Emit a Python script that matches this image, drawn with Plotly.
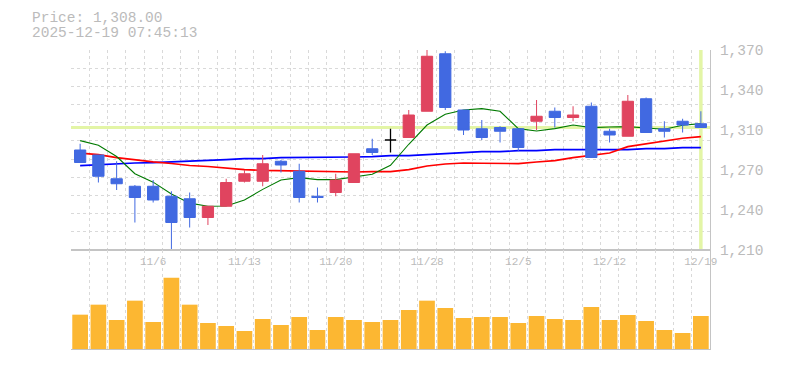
import plotly.graph_objects as go

# ---------------- data ----------------
dates = ["10/30", "10/31", "11/4", "11/5", "11/6", "11/7", "11/10", "11/11", "11/12", "11/13",
         "11/14", "11/17", "11/18", "11/19", "11/20", "11/21", "11/25", "11/26", "11/27", "11/28",
         "12/1", "12/2", "12/3", "12/4", "12/5", "12/8", "12/9", "12/10", "12/11", "12/12",
         "12/15", "12/16", "12/17", "12/18", "12/19"]

open_ = [1290, 1286, 1267, 1261, 1261, 1253, 1251, 1236, 1245, 1265,
         1265, 1281, 1273, 1253, 1256, 1264, 1291, 1298, 1300, 1321,
         1367, 1322, 1307, 1308, 1307, 1313, 1321, 1316, 1325, 1305,
         1301, 1331, 1307, 1313, 1311]
high = [1295, 1286, 1281, 1262, 1266, 1257, 1256, 1245, 1267, 1274,
        1286, 1282, 1279, 1260, 1271, 1287, 1299, 1307, 1322, 1370,
        1369, 1322, 1314, 1309, 1307, 1330, 1324, 1325, 1328, 1307,
        1334, 1332, 1313, 1315, 1321]
low = [1280, 1264, 1258, 1232, 1248, 1210, 1228, 1230, 1245, 1264,
       1261, 1272, 1248, 1248, 1253, 1264, 1286, 1288, 1300, 1321,
       1322, 1302, 1298, 1296, 1289, 1306, 1308, 1313, 1284, 1296,
       1301, 1304, 1300, 1304, 1308]
close = [1280, 1269, 1263, 1252, 1250, 1232, 1236, 1245, 1264, 1271,
         1279, 1278, 1252, 1252, 1266, 1287, 1288, 1298, 1318, 1365,
         1324, 1306, 1300, 1305, 1292, 1317, 1316, 1318, 1284, 1302,
         1329, 1304, 1305, 1310, 1308]

ma_short = [1297.5, 1293.8, 1284.8, 1271.0, 1264.3, 1254.8, 1247.5, 1245.0, 1245.2, 1250.0,
            1258.5, 1266.0, 1267.9, 1266.3, 1266.3, 1268.4, 1270.6, 1277.8, 1294.6, 1310.0,
            1318.6, 1322.0, 1323.1, 1321.0, 1307.1, 1305.2, 1307.1, 1310.0, 1307.9, 1308.4,
            1308.7, 1307.6, 1306.6, 1309.8, 1311.1]
ma_mid = [1287.5, 1286.3, 1283.9, 1282.1, 1280.5, 1279.2, 1277.6, 1276.8, 1275.3, 1274.3,
          1273.7, 1273.5, 1273.2, 1273.0, 1272.4, 1272.4, 1272.7, 1272.7, 1274.3, 1277.2,
          1278.8, 1279.6, 1279.4, 1279.1, 1279.1, 1280.4, 1281.5, 1283.9, 1285.8, 1287.6,
          1292.7, 1294.8, 1297.2, 1299.4, 1300.7]
ma_long = [1277.5, 1278.3, 1279.1, 1279.6, 1279.9, 1280.4, 1281.5, 1281.5, 1282.3, 1283.1,
           1283.1, 1283.9, 1283.9, 1283.9, 1283.9, 1284.4, 1284.7, 1285.5, 1285.5, 1286.3,
           1287.6, 1287.9, 1288.7, 1288.7, 1289.5, 1289.5, 1290.3, 1290.3, 1290.3, 1290.3,
           1290.3, 1291.1, 1291.1, 1291.9, 1291.9]

volume = [10300, 13300, 8700, 14500, 8100, 21400, 13300, 7800, 6900, 5400,
          9000, 7200, 9600, 5700, 9600, 8700, 8100, 8700, 11700, 14500,
          12300, 9300, 9600, 9600, 7800, 9900, 9000, 8700, 12600, 8700,
          10200, 8400, 5700, 4800, 9900]

label_dates = ["11/6", "11/13", "11/20", "11/28", "12/5", "12/12", "12/19"]
price_ticks = [1210, 1242, 1274, 1306, 1338, 1370]
price_ticktext = ["1,210", "1,240", "1,270", "1,310", "1,340", "1,370"]
price_range = [1210, 1370]
volume_range = [0, 29700]
price_text = "Price: 1,308.00"
time_text = "2025-12-19 07:45:13"

# ---------------- style ----------------
UP = "#e0445f"
DOWN = "#4169e1"
GRID = "#d9d9d9"
AXIS = "#c4c4c4"
TXT = "#bbbbbb"
YEL = "#e3f5a6"
VOL = "#fcb732"
FONT = "Liberation Mono"

x = list(range(len(dates)))
label_pos = [dates.index(d) for d in label_dates]
n = len(x)
nd = [i for i in x if open_[i] != close[i]]
dj = [i for i in x if open_[i] == close[i]]
x_span = [x[0] - 0.5, x[-1] + 0.5]

fig = go.Figure()

# current-price markers (horizontal at last close, vertical at last bar)
fig.add_trace(go.Scatter(x=x_span, y=[close[-1], close[-1]], mode="lines",
                         line=dict(color=YEL, width=3), xaxis="x", yaxis="y",
                         showlegend=False, hoverinfo="skip", cliponaxis=True))
fig.add_trace(go.Scatter(x=[x[-1], x[-1]], y=price_range, mode="lines",
                         line=dict(color=YEL, width=3.5), xaxis="x", yaxis="y",
                         showlegend=False, hoverinfo="skip", cliponaxis=True))

for ys, col, w in [(ma_long, "#0000ff", 1.6), (ma_mid, "#ff0000", 1.6), (ma_short, "#007a00", 1.1)]:
    fig.add_trace(go.Scatter(x=x, y=ys, mode="lines", line=dict(color=col, width=w),
                             xaxis="x", yaxis="y", showlegend=False, hoverinfo="skip"))

fig.add_trace(go.Candlestick(
    x=[x[i] for i in nd], open=[open_[i] for i in nd], high=[high[i] for i in nd],
    low=[low[i] for i in nd], close=[close[i] for i in nd],
    increasing=dict(line=dict(color=UP, width=1), fillcolor=UP),
    decreasing=dict(line=dict(color=DOWN, width=1), fillcolor=DOWN),
    whiskerwidth=0, xaxis="x", yaxis="y3", showlegend=False))
fig.add_trace(go.Candlestick(
    x=[x[i] for i in dj], open=[open_[i] for i in dj], high=[high[i] for i in dj],
    low=[low[i] for i in dj], close=[close[i] for i in dj],
    increasing=dict(line=dict(color="#000000", width=1.3), fillcolor="#000000"),
    decreasing=dict(line=dict(color="#000000", width=1.3), fillcolor="#000000"),
    whiskerwidth=0, xaxis="x", yaxis="y3", showlegend=False))

fig.add_trace(go.Bar(x=x, y=volume, marker=dict(color=VOL, line=dict(width=0)), width=0.86,
                     xaxis="x2", yaxis="y2", showlegend=False))

PD = 99 / 299
grid = dict(showgrid=True, gridcolor=GRID, griddash="3px,3px", gridwidth=1)

fig.update_layout(
    width=785, height=370,
    margin=dict(l=71, r=75, t=50, b=21),
    paper_bgcolor="white", plot_bgcolor="white",
    font=dict(family=FONT, color=TXT),
    boxgap=0.12,
    showlegend=False,
    xaxis=dict(domain=[0, 1], anchor="y", range=x_span, tickmode="linear",
               tick0=x_span[0], dtick=1, showticklabels=False, ticks="", zeroline=False,
               showline=True, linecolor=AXIS, linewidth=1,
               rangeslider=dict(visible=False), **grid),
    yaxis=dict(domain=[PD, 1], anchor="x", range=price_range, tickmode="linear",
               tick0=price_range[0], dtick=(price_range[1] - price_range[0]) / 11,
               showticklabels=False, ticks="", zeroline=False, **grid),
    yaxis3=dict(overlaying="y", anchor="x", side="right", range=price_range,
                tickmode="array", tickvals=price_ticks, ticktext=price_ticktext,
                showgrid=False, zeroline=False, showline=True, linecolor=AXIS, linewidth=1,
                ticks="outside", ticklen=6, tickcolor="rgba(0,0,0,0)",
                tickfont=dict(family=FONT, size=14.5, color=TXT)),
    xaxis2=dict(domain=[0, 1], anchor="y2", range=x_span, side="top",
                tickmode="array", tickvals=label_pos, ticktext=label_dates,
                ticklabelposition="inside", ticklabeloverflow="allow",
                ticks="inside", ticklen=7, tickcolor="rgba(0,0,0,0)",
                tickfont=dict(family=FONT, size=11, color=TXT),
                showgrid=False, zeroline=False, showline=True, mirror=True,
                linecolor=AXIS, linewidth=1,
                minor=dict(tickmode="linear", tick0=x_span[0], dtick=1, ticks="", **grid)),
    yaxis2=dict(domain=[0, PD], anchor="x2", side="right", range=volume_range,
                showticklabels=False, ticks="", showgrid=False, zeroline=False,
                showline=True, linecolor=AXIS, linewidth=1),
    annotations=[
        dict(text=price_text, xref="paper", yref="paper", x=-0.0642, y=1.108,
             xanchor="left", yanchor="middle", showarrow=False,
             font=dict(family=FONT, size=14.5, color=TXT)),
        dict(text=time_text, xref="paper", yref="paper", x=-0.0642, y=1.057,
             xanchor="left", yanchor="middle", showarrow=False,
             font=dict(family=FONT, size=14.5, color=TXT)),
    ],
)

fig.write_html("out.html", config={"displayModeBar": False},
               post_script="document.body.style.margin='0';")
